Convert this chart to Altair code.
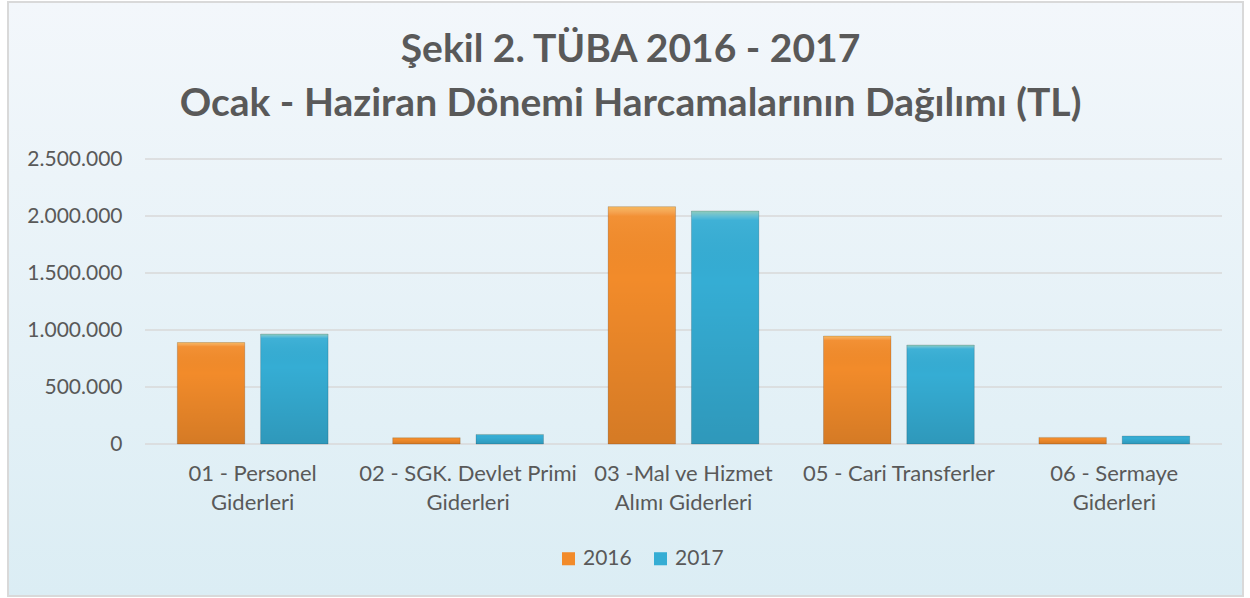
import altair as alt
import pandas as pd

categories = [
    "01 - Personel\nGiderleri",
    "02 - SGK. Devlet Primi\nGiderleri",
    "03 -Mal ve Hizmet\nAlımı Giderleri",
    "05 - Cari Transferler",
    "06 - Sermaye\nGiderleri",
]
values_2016 = [890000, 55000, 2082000, 947000, 58000]
values_2017 = [965000, 84000, 2044000, 868000, 70000]
series = ["2016", "2017"]
y_ticks = [0, 500000, 1000000, 1500000, 2000000, 2500000]
title_lines = ["Şekil 2. TÜBA 2016 - 2017", "Ocak - Haziran Dönemi Harcamalarının Dağılımı (TL)"]

rows = []
for c, a, b in zip(categories, values_2016, values_2017):
    rows.append({"cat": c, "year": series[0], "val": a})
    rows.append({"cat": c, "year": series[1], "val": b})
df = pd.DataFrame(rows)
grid_df = pd.DataFrame({"val": y_ticks})

W, H = 1077, 285
PL, PT, PR, PB = 145, 159, 28, 154
FONT = "Lato"
GREY = "#595959"

bg = alt.Chart(alt.Data(values=[{"k": 1}])).mark_rect(
    fill=alt.Gradient(
        gradient="linear",
        stops=[alt.GradientStop(color="#F3F7FB", offset=0),
               alt.GradientStop(color="#DBEDF4", offset=1)],
        x1=0, x2=0, y1=0, y2=1,
    ),
    stroke="#D9D9D9", strokeWidth=2,
).encode(
    x=alt.value(8 - PL), x2=alt.value(1243 - PL),
    y=alt.value(2 - PT), y2=alt.value(596 - PT),
)

y_scale = alt.Scale(domain=[0, 2500000], nice=False)
y_axis = alt.Axis(
    values=y_ticks, domain=False, ticks=False, grid=False, zindex=1,
    labelExpr="replace(format(datum.value, ','), regexp(',', 'g'), '.')",
    labelFont=FONT, labelFontSize=21, labelColor=GREY, labelPadding=23,
)

grid = alt.Chart(grid_df).mark_rule(color="#D9D9D9", strokeWidth=1.5).encode(
    y=alt.Y("val:Q", title=None, scale=y_scale, axis=y_axis),
    x=alt.value(0), x2=alt.value(W),
)

x_enc = alt.X(
    "cat:N", sort=categories, title=None,
    scale=alt.Scale(paddingInner=0.30, paddingOuter=0.15),
    axis=alt.Axis(
        labelAngle=0, domain=False, ticks=False, grid=False, zindex=1,
        labelExpr="split(datum.label, '\\n')", labelLimit=400,
        labelFont=FONT, labelFontSize=22, labelColor=GREY,
        labelLineHeight=29, labelPadding=19, labelBaseline="top",
    ),
)
y_enc = alt.Y("val:Q", title=None, scale=y_scale, axis=y_axis)
xo = alt.XOffset("year:N", sort=series, scale=alt.Scale(paddingInner=0.19))

bars = alt.Chart(df).mark_bar().encode(
    x=x_enc, y=y_enc, xOffset=xo,
    color=alt.Color(
        "year:N", sort=series,
        scale=alt.Scale(domain=series, range=["#F28B2A", "#35ADD4"]),
        legend=alt.Legend(
            title=None, orient="none", direction="horizontal",
            legendX=413, legendY=389, zindex=1,
            symbolType="square", symbolSize=170, symbolStrokeWidth=0,
            labelFont=FONT, labelFontSize=21, labelColor=GREY,
            columnPadding=18, labelOffset=4,
        ),
    ),
)

shade = alt.Chart(df).mark_bar(
    fill=alt.Gradient(
        gradient="linear",
        stops=[alt.GradientStop(color="rgba(255,240,150,0.45)", offset=0),
               alt.GradientStop(color="rgba(255,255,255,0.05)", offset=0.04),
               alt.GradientStop(color="rgba(0,0,0,0.0)", offset=0.3),
               alt.GradientStop(color="rgba(0,0,0,0.12)", offset=1)],
        x1=0, x2=0, y1=0, y2=1,
    ),
    stroke="rgba(0,0,0,0.15)", strokeWidth=1,
).encode(x=x_enc, y=y_enc, xOffset=xo)

chart = alt.layer(bg, grid, bars, shade).resolve_scale(y="shared").properties(
    width=W, height=H,
    autosize=alt.AutoSizeParams(type="none"),
    padding={"left": PL, "top": PT, "right": PR, "bottom": PB},
    background="white",
    title=alt.TitleParams(
        text=title_lines, anchor="middle", frame="group", zindex=1,
        font=FONT, fontSize=39, fontWeight="bold", color=GREY,
        lineHeight=54, dx=-53, offset=-162, baseline="bottom",
    ),
).configure_view(stroke=None)

chart.save("out.html", embed_options={"renderer": "svg", "actions": False})
